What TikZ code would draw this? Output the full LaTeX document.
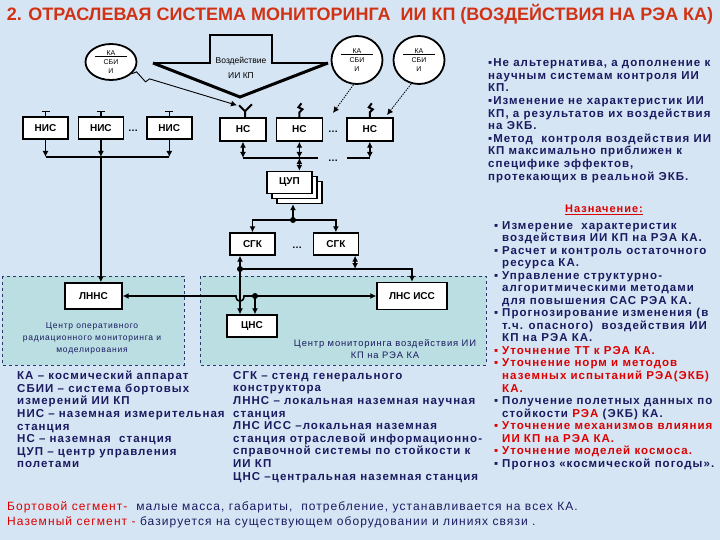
\documentclass[tikz,border=0pt]{standalone}
\usepackage{fontspec}
\setmainfont{Liberation Sans}
\newfontfamily\spacedfont[LetterSpace=9]{Liberation Sans}
\usepackage{xcolor}
\usepackage{tikz}
\usetikzlibrary{shapes,arrows.meta,positioning,fit,backgrounds}

\definecolor{bgblue}{RGB}{214,229,244}
\definecolor{zonefill}{RGB}{186,222,226}
\definecolor{zoneline}{RGB}{40,55,110}
\definecolor{navy}{RGB}{26,26,96}
\definecolor{titlered}{RGB}{210,50,20}
\definecolor{alertred}{RGB}{220,0,0}

\newcommand{\itemmark}{\makebox[8pt][l]{▪}}
\newcommand{\itemgap}{\hspace*{8pt}}

\begin{document}
\begin{tikzpicture}[
    x=1pt, y=-1pt,
    box/.style={rectangle, draw, line width=1.4pt, fill=white, minimum width=45pt, minimum height=22pt, inner sep=0pt, font=\fontsize{10}{12}\selectfont\bfseries},
    sat/.style={ellipse, draw, line width=1.8pt, fill=white, minimum width=51pt, minimum height=48pt, inner sep=0pt, align=center, font=\fontsize{7}{9}\selectfont},
    link/.style={line width=1.6pt},
    ray/.style={line width=0.8pt, dash pattern=on 1.5pt off 1pt},
    mast/.style={line width=1.4pt},
    antenna/.style={line width=2pt},
    zone/.style={draw=zoneline, dashed, line width=1pt, fill=zonefill},
    dots/.style={font=\bfseries},
    zonetext/.style={align=center, inner sep=0pt, text=navy, font=\spacedfont\fontsize{8.5}{12}\selectfont},
    legend/.style={anchor=north west, align=left, inner sep=0pt, text=navy, font=\spacedfont\fontsize{11.5}{12.6}\selectfont\bfseries},
    >={Latex[length=6pt,width=6pt]}
]

\begin{scope}[on background layer]
    \fill[bgblue] (0,0) rectangle (720,540);
    \draw[zone] (2,276) rectangle (184,365);
    \draw[zone] (200,276) rectangle (486,365);
\end{scope}

\node[font=\fontsize{18}{20}\selectfont\bfseries, text=titlered] (title) at (360,14)
    {2. ОТРАСЛЕВАЯ СИСТЕМА МОНИТОРИНГА\ \ ИИ КП (ВОЗДЕЙСТВИЯ НА РЭА КА)};

% spacecraft
\node[sat, minimum height=36pt] (sat1) at (111,62) {КА\\[-7pt]\rule{32pt}{1pt}\\[-2pt]СБИ\\И};
\node[sat] (sat2) at (357,60) {КА\\[-7pt]\rule{32pt}{1pt}\\[-2pt]СБИ\\И};
\node[sat] (sat3) at (419,60) {КА\\[-7pt]\rule{32pt}{1pt}\\[-2pt]СБИ\\И};

% beam
\draw[line width=1.8pt] (153,63) -- (210,63) -- (210,35) -- (272,35) -- (272,63) -- (328,63);
\draw[line width=3pt, line join=miter] (328,63) -- (240,97) coordinate (beam) -- (153,63);
\node[font=\fontsize{8.5}{10}\selectfont] (beamtxt) at (241,61) {Воздействие};
\node[font=\fontsize{8.5}{10}\selectfont] (beamtxt2) at (241,76) {ИИ КП};

% stations
\node[box] (nis1) at (45.5,128) {НИС};
\node[box, right=9pt of nis1] (nis2) {НИС};
\node[box, right=22pt of nis2] (nis3) {НИС};
\node[dots] (nisdots) at (133,131) {…};

\node[box, minimum width=46pt, minimum height=23pt] (ns1) at (243,129.5) {НС};
\node[box, minimum width=46pt, minimum height=23pt, right=9pt of ns1] (ns2) {НС};
\node[box, minimum width=46pt, minimum height=23pt, right=23pt of ns2] (ns3) {НС};
\node[dots] (nsdots) at (333,132) {…};

\node[box] (cup3) at (299.5,192.5) {};
\node[box] (cup2) at (294.5,187.5) {};
\node[box] (cup) at (289.5,182.5) {ЦУП};

\node[box] (sgk1) at (252.5,244) {СГК};
\node[box, right=37pt of sgk1] (sgk2) {СГК};
\node[dots] (sgkdots) at (297,248) {…};

\node[box, minimum width=57pt, minimum height=26pt] (lnns) at (93.5,296) {ЛННС};
\node[box, minimum width=70pt, minimum height=27pt] (lnsiss) at (412,296) {ЛНС ИСС};
\node[box, minimum width=50pt] (cns) at (252,326) {ЦНС};

% antennas
\foreach \n in {nis1,nis2,nis3}
    \draw[mast] (\n.north) -- ++(0,-5) ++(-4,0) -- ++(8,0);
\draw[antenna] ([xshift=2pt]ns1.north) -- ++(0,-6) coordinate (dishfoot) -- ++(-6,-6) coordinate (dish);
\draw[antenna] (dishfoot) -- ++(7,-7);
\foreach \n in {ns2,ns3}
    \draw[antenna] (\n.north) -- ++(0,-5) -- ++(3,-3) -- ++(-4,-2) -- ++(3,-4);

% radio links
\draw[line width=0.9pt, ->] (sat1.-30) -- ++(5,-2) -- ++(9,10) -- ++(4,-3) -- ([xshift=-2pt]dish);
\coordinate (ray2) at (333,113);
\coordinate (ray3) at (387,115);
\draw[ray, ->] (sat2.262) -- (ray2);
\draw[ray, ->] (sat3.252) -- (ray3);

% NIS bus
\coordinate (nisbus) at (100,157);
\foreach \n in {nis1,nis2,nis3}
    \draw[link, ->] (\n.south) -- (\n.south |- nisbus);
\draw[link] (nis1.south |- nisbus) -- (nis3.south |- nisbus);
\draw[link, ->] (nis2.south |- nisbus) -- (nis2.south |- lnns.north);

% NS bus
\coordinate (nsbus) at (300,158);
\coordinate (nsgap1) at (318,158);
\coordinate (nsgap2) at (347,158);
\foreach \n in {ns1,ns2,ns3}
    \draw[link, <->] (\n.south) -- (\n.south |- nsbus);
\draw[link] (ns1.south |- nsbus) -- (nsgap1);
\draw[link] (nsgap2) -- (ns3.south |- nsbus);
\node[dots] (busdots) at (333,161) {…};
\draw[link, <->] (ns2.south |- nsbus) -- (ns2.south |- cup.north);

% control centre to stands
\coordinate (sgkhub) at (293,220);
\draw[link, ->] (sgkhub) -- (sgkhub |- cup3.south);
\draw[link, ->] (sgkhub) -| (sgk1.north);
\draw[link, ->] (sgkhub) -| (sgk2.north);
\fill (sgkhub) circle (3pt);

% stands to ground network
\coordinate (hub) at (240,269);
\draw[link, ->] (hub) -- (hub |- sgk1.south);
\draw[link, ->] (hub) -| (lnsiss.north);
\draw[link, <->] ([xshift=-4pt]sgk2.south east) -- ([xshift=-4pt]sgk2.south east |- hub);
\draw[link, ->] (hub) -- (hub |- cns.north);
\fill (hub) circle (3pt);

\coordinate (hopL) at (236,296);
\coordinate (hopR) at (244,296);
\draw[link, <->] (lnns.east) -- (hopL) .. controls +(0,7) and +(0,7) .. (hopR) -- (lnsiss.west);
\coordinate (cnshub) at (255,296);
\draw[link, ->] (cnshub) -- (cnshub |- cns.north);
\fill (cnshub) circle (3pt);

% zone captions
\node[zonetext] (leftcap) at (92,338) {Центр оперативного\\радиационного мониторинга и\\моделирования};
\node[zonetext, font=\spacedfont\fontsize{9.4}{11.5}\selectfont] (rightcap) at (385,349) {Центр мониторинга воздействия ИИ\\КП на РЭА КА};

% legend
\node[legend] (abbr1) at (17,371) {КА – космический аппарат\\СБИИ – система бортовых\\измерений ИИ КП\\НИС – наземная измерительная\\станция\\НС – наземная\ \ станция\\ЦУП – центр управления\\полетами};
\node[legend] (abbr2) at (233,371) {СГК – стенд генерального\\конструктора\\ЛННС – локальная наземная научная\\станция\\ЛНС ИСС –локальная наземная\\станция отраслевой информационно-\\справочной системы по стойкости к\\ИИ КП\\ЦНС –центральная наземная станция};

% notes
\node[legend] (notes) at (488,58.5) {▪Не альтернатива, а дополнение к\\научным системам контроля ИИ\\КП.\\▪Изменение не характеристик ИИ\\КП, а результатов их воздействия\\на ЭКБ.\\▪Метод\ \ контроля воздействия ИИ\\КП максимально приближен к\\специфике эффектов,\\протекающих в реальной ЭКБ.};

\node[text=alertred, font=\spacedfont\fontsize{11}{12.6}\selectfont\bfseries] (purpose) at (604,210) {\underline{Назначение:}};
\node[legend, font=\spacedfont\fontsize{11.5}{12.53}\selectfont\bfseries] (tasks) at (494,221) {\itemmark Измерение\ \ характеристик\\
\itemgap воздействия ИИ КП на РЭА КА.\\
\itemmark Расчет и контроль остаточного\\
\itemgap ресурса КА.\\
\itemmark Управление структурно-\\
\itemgap алгоритмическими методами\\
\itemgap для повышения САС РЭА КА.\\
\itemmark Прогнозирование изменения (в\\
\itemgap т.ч. опасного)\ \ воздействия ИИ\\
\itemgap КП на РЭА КА.\\
\textcolor{alertred}{\itemmark Уточнение ТТ к РЭА КА.}\\
\textcolor{alertred}{\itemmark Уточнение норм и методов}\\
\textcolor{alertred}{\itemgap наземных испытаний РЭА(ЭКБ)}\\
\textcolor{alertred}{\itemgap КА.}\\
\itemmark Получение полетных данных по\\
\itemgap стойкости \textcolor{alertred}{РЭА} (ЭКБ) КА.\\
\textcolor{alertred}{\itemmark Уточнение механизмов влияния}\\
\textcolor{alertred}{\itemgap ИИ КП на РЭА КА.}\\
\textcolor{alertred}{\itemmark Уточнение моделей космоса.}\\
\itemmark Прогноз «космической погоды».};

% segments
\node[anchor=north west, align=left, inner sep=0pt, text=navy, font=\spacedfont\fontsize{12}{15}\selectfont] (segments) at (7,501)
    {\textcolor{alertred}{Бортовой сегмент-}\ \ малые масса, габариты,\ \ потребление, устанавливается на всех КА.\\
     \textcolor{alertred}{Наземный сегмент -} базируется на существующем оборудовании и линиях связи .};

\end{tikzpicture}
\end{document}
